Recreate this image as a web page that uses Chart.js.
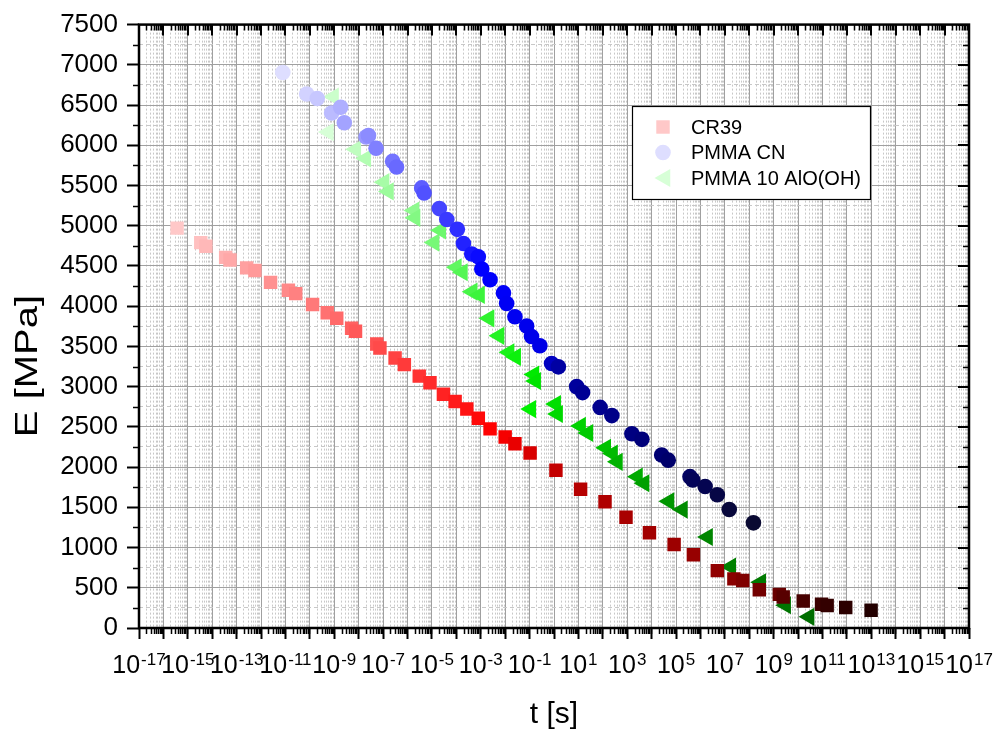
<!DOCTYPE html>
<html>
<head>
<meta charset="utf-8">
<script src="https://cdn.jsdelivr.net/npm/chart.js@4.4.0/dist/chart.umd.min.js"></script>
<style>
  html, body { margin: 0; background: #fff; }
  #wrap { width: 995px; height: 734px; }
</style>
</head>
<body>
<div id="wrap"><canvas id="c" width="995" height="734"></canvas></div>
<script>
// ---- data ----
const cr39T = [3.63e-16, 3.39e-15, 5.5e-15, 3.55e-14, 5.37e-14, 2.57e-13, 5.62e-13, 2.45e-12, 1.32e-11, 2.63e-11,
  1.29e-10, 5.13e-10, 1.26e-9, 5.13e-9, 7.41e-9, 5.5e-8, 7.41e-8, 3.09e-7, 7.41e-7, 3.02e-6,
  8.32e-6, 2.95e-5, 8.91e-5, 2.69e-4, 7.94e-4, 2.4e-3, 1e-2, 2.51e-2, 0.105, 1.2,
  12.3, 123, 891, 8130, 83200, 5.13e5, 4.9e6, 2.34e7, 5.37e7, 2.57e8,
  1.7e9, 2.45e9, 1.62e10, 9.12e10, 1.55e11, 8.91e11, 9.77e12];
const cr39E = [4970, 4790, 4746, 4607, 4574, 4476, 4443, 4296, 4198, 4156,
  4021, 3919, 3849, 3726, 3689, 3529, 3480, 3357, 3274, 3131,
  3049, 2906, 2816, 2721, 2607, 2475, 2373, 2291, 2175, 1960,
  1725, 1570, 1377, 1183, 1038, 910, 713, 611, 590, 476,
  418, 385, 336, 295, 279, 255, 221];

const pmmaT = [7.76e-12, 7.41e-11, 2.0e-10, 7.76e-10, 1.82e-9, 2.57e-9, 2.0e-8, 2.51e-8, 5.13e-8, 2.45e-7,
  3.55e-7, 3.8e-6, 4.79e-6, 2.0e-5, 4.07e-5, 1.1e-4, 1.95e-4, 4.27e-4, 7.94e-4, 1.1e-3,
  2.4e-3, 8.51e-3, 1.15e-2, 2.51e-2, 7.59e-2, 0.12, 0.263, 0.794, 1.51, 8.51,
  14.8, 77.6, 234, 1550, 3980, 25700, 47900, 3.72e5, 4.79e5, 1.55e6,
  4.9e6, 1.51e7, 1.48e8];
const pmmaE = [6904, 6638, 6582, 6402, 6472, 6280, 6103, 6120, 5964, 5800,
  5730, 5470, 5406, 5213, 5078, 4955, 4779, 4648, 4615, 4463,
  4328, 4165, 4033, 3869, 3754, 3623, 3508, 3287, 3246, 3000,
  2926, 2742, 2640, 2414, 2345, 2150, 2086, 1881, 1841, 1758,
  1656, 1472, 1307];

const aloT = [5.75e-10, 9.33e-10, 7.59e-9, 1.95e-8, 1.1e-7, 1.66e-7, 1.86e-6, 2.04e-6, 1.23e-5, 2.29e-5,
  1.0e-4, 1.78e-4, 4.47e-4, 8.91e-4, 2.19e-3, 5.62e-3, 1.45e-2, 2.69e-2, 0.112, 0.151,
  0.178, 1.17, 1.41, 12.3, 24.5, 132, 251, 398, 2630, 4900,
  51300, 1.82e5, 1.95e6, 1.74e7, 2.95e8, 3.09e9, 2.82e10];
const aloE = [6164, 6604, 5950, 5836, 5541, 5427, 5189, 5098, 4791, 4943,
  4483, 4422, 4180, 4140, 3849, 3631, 3426, 3369, 2721, 3151,
  3070, 2783, 2660, 2512, 2424, 2240, 2168, 2066, 1881, 1799,
  1574, 1472, 1131, 762, 569, 283, 139];

const seriesNames = ['CR39', 'PMMA CN', 'PMMA 10 AlO(OH)'];

// tick positions
const xDecades = [1e-17, 1e-16, 1e-15, 1e-14, 1e-13, 1e-12, 1e-11, 1e-10, 1e-9, 1e-8, 1e-7, 1e-6,
  1e-5, 1e-4, 1e-3, 1e-2, 1e-1, 1, 1e1, 1e2, 1e3, 1e4, 1e5, 1e6, 1e7, 1e8, 1e9, 1e10,
  1e11, 1e12, 1e13, 1e14, 1e15, 1e16, 1e17];
const xLabelExps = [-17, -15, -13, -11, -9, -7, -5, -3, -1, 1, 3, 5, 7, 9, 11, 13, 15, 17];
const yMin = 0, yMax = 7500, yStep = 500;

// minor tick/grid positions (2..9 in each decade, halves on y)
const xMinor = [];
xDecades.slice(0, -1).forEach(d => { for (let k = 2; k <= 9; k++) xMinor.push(k * d); });
const yMinor = [];
for (let v = yStep / 2; v < yMax; v += yStep) yMinor.push(v);

// colour ramps along each series
const rampRed = [[0, 255, 200, 200], [0.55, 255, 0, 0], [0.6, 225, 0, 0], [0.64, 185, 0, 0],
  [0.8, 140, 0, 0], [0.87, 105, 0, 0], [0.92, 65, 0, 0], [1, 35, 0, 0]];
const rampBlue = [[0, 222, 222, 255], [0.45, 0, 0, 255], [0.62, 0, 0, 230], [0.66, 0, 0, 165],
  [0.85, 0, 0, 110], [0.93, 5, 5, 80], [1, 10, 10, 50]];
const rampGreen = [[0, 215, 255, 215], [0.5, 0, 240, 0], [0.62, 0, 215, 0], [0.78, 0, 170, 0],
  [0.86, 0, 140, 0], [1, 0, 110, 0]];

function rampColor(ramp, t) {
  for (let i = 1; i < ramp.length; i++) {
    if (t <= ramp[i][0]) {
      const a = ramp[i - 1], b = ramp[i];
      const f = (t - a[0]) / (b[0] - a[0]);
      const c = [1, 2, 3].map(j => Math.round(a[j] + (b[j] - a[j]) * f));
      return `rgb(${c[0]},${c[1]},${c[2]})`;
    }
  }
  const l = ramp[ramp.length - 1];
  return `rgb(${l[1]},${l[2]},${l[3]})`;
}

const FONT = "'Liberation Sans', Arial, sans-serif";

function makeSet(label, xs, ys, style, ramp, radius, rotation) {
  return {
    label: label,
    data: xs.map((t, i) => ({ x: t, y: ys[i] })),
    showLine: false,
    pointStyle: style,
    pointRadius: radius,
    pointHoverRadius: radius,
    pointRotation: rotation,
    pointBorderWidth: 0,
    pointBackgroundColor: c => rampColor(ramp, c.dataIndex / (xs.length - 1)),
    pointBorderColor: c => rampColor(ramp, c.dataIndex / (xs.length - 1)),
    legendColor: rampColor(ramp, 0)
  };
}

// frame, mirrored ticks, 10^n labels, axis titles, legend box
const framePlugin = {
  id: 'frame',
  afterDraw(chart) {
    const { ctx, chartArea: a, scales } = chart;
    const x = scales.x, y = scales.y;
    ctx.save();
    ctx.strokeStyle = '#000';
    ctx.lineWidth = 1.5;
    ctx.beginPath();
    xMinor.forEach(v => {
      const px = Math.round(x.getPixelForValue(v)) + 0.5;
      ctx.moveTo(px, a.bottom); ctx.lineTo(px, a.bottom + 6);
      ctx.moveTo(px, a.top); ctx.lineTo(px, a.top + 6);
    });
    yMinor.forEach(v => {
      const py = Math.round(y.getPixelForValue(v)) + 0.5;
      ctx.moveTo(a.left - 6, py); ctx.lineTo(a.left, py);
      ctx.moveTo(a.right - 6, py); ctx.lineTo(a.right, py);
    });
    ctx.stroke();
    ctx.lineWidth = 2;
    ctx.beginPath();
    xDecades.forEach(v => {
      const px = Math.round(x.getPixelForValue(v));
      ctx.moveTo(px, a.top); ctx.lineTo(px, a.top + 11);
    });
    for (let v = yMin; v <= yMax; v += yStep) {
      const py = Math.round(y.getPixelForValue(v));
      ctx.moveTo(a.right - 11, py); ctx.lineTo(a.right, py);
    }
    ctx.stroke();
    ctx.lineWidth = 2.5;
    ctx.strokeRect(a.left, a.top, a.right - a.left, a.bottom - a.top);

    // x tick labels as 10 with a raised exponent
    ctx.fillStyle = '#000';
    ctx.textAlign = 'left';
    ctx.textBaseline = 'alphabetic';
    xLabelExps.forEach(e => {
      const px = x.getPixelForValue(Math.pow(10, e));
      const exp = String(e);
      ctx.font = `25px ${FONT}`;
      const w1 = ctx.measureText('10').width;
      ctx.font = `17px ${FONT}`;
      const w2 = ctx.measureText(exp).width;
      const x0 = px - (w1 + 1 + w2) / 2;
      ctx.font = `25px ${FONT}`;
      ctx.fillText('10', x0, 673);
      ctx.font = `17px ${FONT}`;
      ctx.fillText(exp, x0 + w1 + 1, 665);
    });

    // axis titles
    ctx.textAlign = 'center';
    ctx.font = `30px ${FONT}`;
    ctx.fillText('t [s]', (a.left + a.right) / 2, 723);
    ctx.save();
    ctx.translate(37, 366);
    ctx.rotate(-Math.PI / 2);
    ctx.scale(1.25, 1);
    ctx.font = `32px ${FONT}`;
    ctx.fillText('E [MPa]', 0, 0);
    ctx.restore();

    // legend
    const lx = 632, ly = 106, lw = 238, lh = 93;
    ctx.fillStyle = '#fff';
    ctx.fillRect(lx, ly, lw, lh);
    ctx.strokeStyle = '#000';
    ctx.lineWidth = 1.2;
    ctx.strokeRect(lx + 0.5, ly + 0.5, lw, lh);
    ctx.font = `20px ${FONT}`;
    ctx.textAlign = 'left';
    ctx.textBaseline = 'middle';
    chart.data.datasets.forEach((ds, i) => {
      const cy = ly + 21 + i * 25.5;
      const sx = lx + 31 + (ds.pointStyle === 'triangle' ? 2 : 0);
      ctx.fillStyle = ds.legendColor;
      ctx.strokeStyle = ds.legendColor;
      Chart.helpers.drawPoint(ctx, {
        pointStyle: ds.pointStyle,
        radius: ds.pointRadius,
        rotation: ds.pointRotation,
        borderWidth: 0
      }, sx, cy);
      ctx.fillStyle = '#000';
      ctx.fillText(ds.label, lx + 59, cy + 1);
    });
    ctx.restore();
  }
};

new Chart(document.getElementById('c'), {
  type: 'scatter',
  data: {
    datasets: [
      makeSet(seriesNames[0], cr39T, cr39E, 'rect', rampRed, 9.5, 0),
      makeSet(seriesNames[1], pmmaT, pmmaE, 'circle', rampBlue, 7.8, 0),
      makeSet(seriesNames[2], aloT, aloE, 'triangle', rampGreen, 10.5, 270)
    ]
  },
  options: {
    responsive: false,
    animation: false,
    layout: { padding: { left: 0, top: 18, right: 26, bottom: 0 } },
    plugins: { legend: { display: false }, tooltip: { enabled: false } },
    scales: {
      x: {
        type: 'logarithmic',
        position: 'bottom',
        min: 1e-17, max: 1e17,
        afterBuildTicks: s => { s.ticks = xDecades.map(v => ({ value: v })); },
        afterFit: s => { s.height = 106; },
        ticks: { autoSkip: false, maxRotation: 0, minRotation: 0, callback: () => '' },
        grid: { color: '#a0a0a0', lineWidth: 1, tickColor: '#000', tickWidth: 2, tickLength: 11 },
        border: { display: false }
      },
      xm: {
        type: 'logarithmic',
        position: 'bottom',
        min: 1e-17, max: 1e17,
        z: -1,
        afterBuildTicks: s => { s.ticks = xMinor.map(v => ({ value: v })); },
        afterFit: s => { s.height = 0; },
        ticks: { display: false },
        grid: { color: '#c8c8c8', lineWidth: 1, drawTicks: false },
        border: { display: false, dash: [2, 2] }
      },
      y: {
        type: 'linear',
        position: 'left',
        min: yMin, max: yMax,
        afterBuildTicks: s => {
          const t = [];
          for (let v = yMin; v <= yMax; v += yStep) t.push({ value: v });
          s.ticks = t;
        },
        afterFit: s => { s.width = 139; },
        ticks: { padding: 9, color: '#000', font: { family: FONT, size: 26 }, callback: v => String(v) },
        grid: { color: '#a0a0a0', lineWidth: 1, tickColor: '#000', tickWidth: 2, tickLength: 12 },
        border: { display: false }
      },
      ym: {
        type: 'linear',
        position: 'left',
        min: yMin, max: yMax,
        z: -1,
        afterBuildTicks: s => { s.ticks = yMinor.map(v => ({ value: v })); },
        afterFit: s => { s.width = 0; },
        ticks: { display: false },
        grid: { color: '#c8c8c8', lineWidth: 1, drawTicks: false },
        border: { display: false, dash: [4, 3] }
      }
    }
  },
  plugins: [framePlugin]
});
</script>
</body>
</html>
